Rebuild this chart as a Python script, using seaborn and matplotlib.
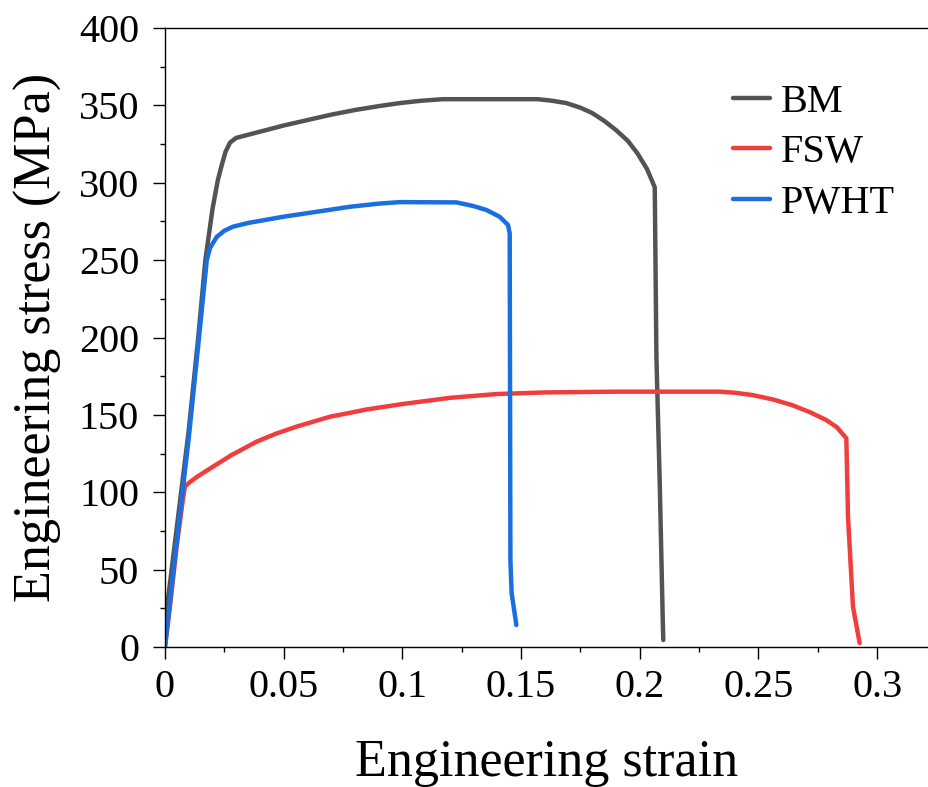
import matplotlib
matplotlib.use("Agg")
import matplotlib.pyplot as plt
import seaborn as sns
import pandas as pd
from matplotlib.ticker import MultipleLocator
from matplotlib.lines import Line2D

# ---- data ----
bm_strain = [0.0, 0.002, 0.006, 0.010, 0.014, 0.017, 0.020, 0.0223, 0.024, 0.0255, 0.0274,
             0.030, 0.035, 0.040, 0.050, 0.060, 0.070, 0.080, 0.090, 0.099, 0.108,
             0.117, 0.140, 0.157, 0.163, 0.169, 0.175, 0.180, 0.185, 0.190, 0.195,
             0.199, 0.203, 0.2055, 0.2063, 0.207, 0.2084, 0.2097, 0.2099]
bm_stress = [15, 40, 90, 140, 200, 250, 283, 302, 312, 320, 326,
             329, 331, 333, 337, 340.5, 344, 347, 349.5, 351.5, 353,
             354, 354, 354, 353, 351.5, 348.5, 345, 340, 334, 327,
             319, 309, 300, 297, 187, 106, 15.5, 4.5]

fsw_strain = [0.0, 0.002, 0.0049, 0.0075, 0.0084, 0.010, 0.014, 0.0202, 0.028, 0.0386,
              0.047, 0.0554, 0.0695, 0.085, 0.100, 0.120, 0.140, 0.160, 0.190, 0.2336,
              0.240, 0.2475, 0.256, 0.264, 0.272, 0.2785, 0.283, 0.287, 0.2877,
              0.2898, 0.2926]
fsw_stress = [0, 25, 64.8, 95, 103.6, 106, 110.5, 116.5, 124, 132.7,
              138, 142.4, 148.8, 153.5, 157, 161, 163.5, 164.5, 165, 165,
              164.3, 162.8, 160, 156.4, 151.5, 146.7, 142, 134.9, 84.2,
              26, 2.6]

pwht_strain = [0.0, 0.002, 0.006, 0.010, 0.014, 0.0176, 0.019, 0.0218, 0.025, 0.0286,
               0.035, 0.0497, 0.065, 0.078, 0.090, 0.099, 0.1228, 0.1298, 0.1354,
               0.141, 0.1445, 0.1452, 0.1455, 0.146, 0.148]
pwht_stress = [0, 28, 82, 135, 195, 250, 258, 265, 269, 271.6,
               274, 278, 281.5, 284.5, 286.5, 287.5, 287.3, 285, 282.4,
               278, 272.7, 267.3, 56, 35, 14.2]

labels = ["BM", "FSW", "PWHT"]
colors = {"BM": "#535353", "FSW": "#f03d3d", "PWHT": "#1a6ee0"}

frames = []
for name, xs, ys in [("BM", bm_strain, bm_stress),
                     ("FSW", fsw_strain, fsw_stress),
                     ("PWHT", pwht_strain, pwht_stress)]:
    frames.append(pd.DataFrame({"strain": xs, "stress": ys, "sample": name}))
df = pd.concat(frames, ignore_index=True)

sns.set_theme(style="white")
plt.rcParams["font.family"] = ["Liberation Serif", "DejaVu Serif"]

fig = plt.figure(figsize=(9.29, 7.87), dpi=100)
ax = fig.add_axes([165 / 929, 1 - 647 / 787, 1 - 165 / 929, (647 - 28) / 787])

sns.lineplot(data=df, x="strain", y="stress", hue="sample", hue_order=labels,
             palette=colors, sort=False, estimator=None,
             linewidth=3.2, ax=ax, legend=False)
handles = [Line2D([0], [0], color=colors[l], lw=3.2) for l in labels]
ax.legend(handles, labels, loc="upper left", bbox_to_anchor=(0.744, 0.91),
          frameon=False, fontsize=29, handlelength=0.92, handletextpad=0.25,
          labelspacing=0.33, borderaxespad=0, borderpad=0, labelcolor="black")

ax.set_xlim(0, (929 - 165) / 118.7 * 0.05)
ax.set_ylim(0, 400)
ax.set_xticks([0, 0.05, 0.1, 0.15, 0.2, 0.25, 0.3])
ax.set_xticklabels(["0", "0.05", "0.1", "0.15", "0.2", "0.25", "0.3"])
ax.set_yticks(range(0, 401, 50))
ax.set_yticklabels([str(v) for v in range(0, 401, 50)])
ax.xaxis.set_minor_locator(MultipleLocator(0.025))
ax.yaxis.set_minor_locator(MultipleLocator(25))

ax.tick_params(which="major", direction="out", length=8.6, width=1.0, color="black",
               labelsize=29, labelcolor="black", bottom=True, left=True)
ax.tick_params(axis="y", which="major", pad=10)
ax.tick_params(axis="x", which="major", pad=7)
ax.tick_params(which="minor", direction="out", length=3.8, width=1.0, color="black",
               bottom=True, left=True)

for s in ["left", "bottom", "top"]:
    ax.spines[s].set_visible(True)
    ax.spines[s].set_color("black")
    ax.spines[s].set_linewidth(1.0)
ax.spines["right"].set_visible(False)

ax.set_xlabel("Engineering strain", fontsize=37.5, labelpad=24, color="black")
ax.set_ylabel("Engineering stress (MPa)", fontsize=37.5, labelpad=12, color="black")

fig.savefig("out.png", dpi=100)
